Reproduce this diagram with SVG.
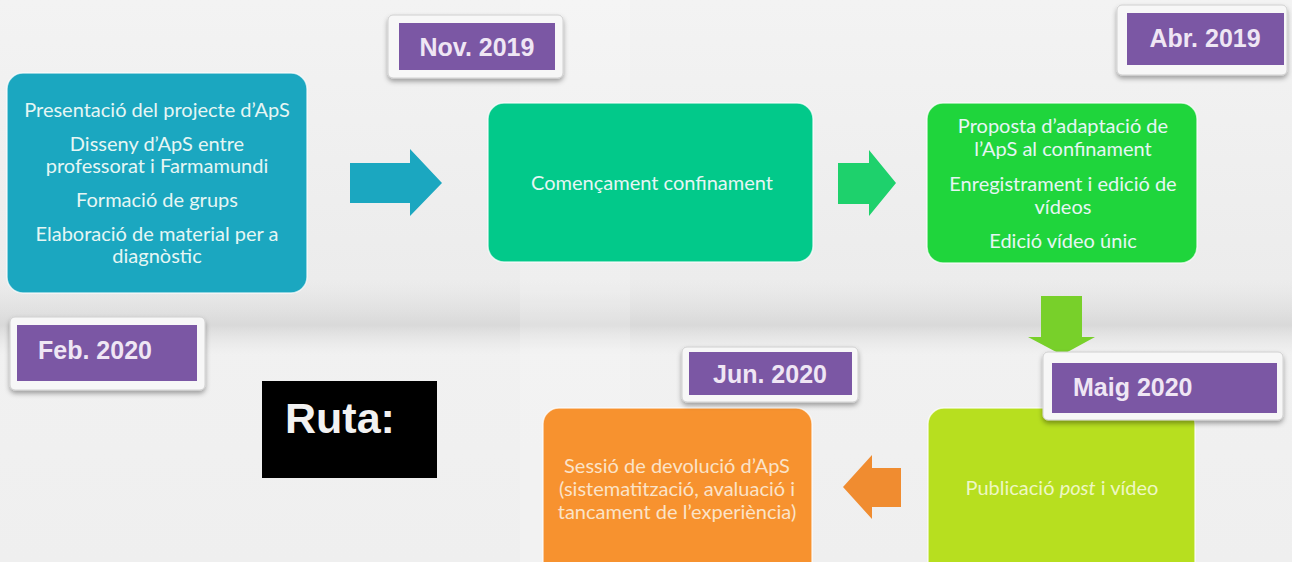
<svg xmlns="http://www.w3.org/2000/svg" width="1292" height="562" viewBox="0 0 1292 562">
<defs>
<linearGradient id="bg" x1="0" y1="0" x2="0" y2="1">
<stop offset="0" stop-color="#f3f3f3"/>
<stop offset="0.5" stop-color="#ececec"/>
<stop offset="0.6" stop-color="#f1f1f1"/>
<stop offset="1" stop-color="#efefef"/>
</linearGradient>
<linearGradient id="band" x1="0" y1="0" x2="0" y2="1">
<stop offset="0" stop-color="#d8d8d8" stop-opacity="0"/>
<stop offset="0.6" stop-color="#cfcfcf" stop-opacity="0.7"/>
<stop offset="1" stop-color="#e0e0e0" stop-opacity="0"/>
</linearGradient>
<filter id="sh" x="-10%" y="-20%" width="120%" height="150%">
<feDropShadow dx="0" dy="3" stdDeviation="2.5" flood-color="#000" flood-opacity="0.35"/>
</filter>
</defs>
<style>
.box{stroke:#ffffff;stroke-opacity:0.7;stroke-width:1.5}
.bt{font-family:Lato,"Open Sans",sans-serif;font-size:20px;fill:#e6f6f4;text-anchor:middle}
.frame{fill:#f7f7f7;stroke:#d0d0d0;stroke-width:1}
.tag{fill:#7b57a4}
.dt{font-family:"Liberation Sans",Arial,sans-serif;font-weight:bold;font-size:25px;fill:#efe6f4}
</style>
<rect width="1292" height="562" fill="url(#bg)"/>
<rect x="0" y="280" width="1292" height="75" fill="url(#band)"/>
<rect x="520" y="0" width="110" height="562" fill="#ffffff" opacity="0.18"/>

<g id="connectors">
<polygon points="350,163 410,163 410,149 442,183 410,216 410,203 350,203" fill="#1ba7c0"/>
<polygon points="838,163 869,163 869,150 896,183 869,216 869,204 838,204" fill="#1ed16c"/>
<polygon points="1041,296 1082,296 1082,337 1095,337 1062,355 1028,337 1041,337" fill="#78d02a"/>
<polygon points="901,468 872,468 872,455 843,487 872,519 872,507 901,507" fill="#f08c30"/>
</g>

<g id="n1">
<rect class="box" x="7" y="73" width="300" height="220" rx="16" fill="#1ba7c0"/>
<text class="bt" x="157" y="117">Presentació del projecte d’ApS</text>
<text class="bt" x="157" y="151">Disseny d’ApS entre</text>
<text class="bt" x="157" y="173">professorat i Farmamundi</text>
<text class="bt" x="157" y="207">Formació de grups</text>
<text class="bt" x="157" y="241">Elaboració de material per a</text>
<text class="bt" x="157" y="263">diagnòstic</text>
</g>

<g id="n2">
<rect class="box" x="488" y="103" width="325" height="159" rx="16" fill="#02c98a"/>
<text class="bt" x="652" y="190">Començament confinament</text>
</g>

<g id="n3">
<rect class="box" x="927" y="103" width="270" height="160" rx="16" fill="#1fd53c"/>
<text class="bt" x="1063" y="133">Proposta d’adaptació de</text>
<text class="bt" x="1063" y="156">l’ApS al confinament</text>
<text class="bt" x="1063" y="191">Enregistrament i edició de</text>
<text class="bt" x="1063" y="214">vídeos</text>
<text class="bt" x="1063" y="248">Edició vídeo únic</text>
</g>

<g id="n4">
<rect class="box" x="928" y="408" width="267" height="175" rx="16" fill="#b7df1f"/>
<text class="bt" x="1062" y="495" style="fill:#eef7c4">Publicació <tspan font-style="italic">post</tspan> i vídeo</text>
</g>

<g id="n5">
<rect class="box" x="543" y="408" width="269" height="175" rx="16" fill="#f7922f"/>
<text class="bt" x="677" y="473" style="fill:#fbe3c8">Sessió de devolució d’ApS</text>
<text class="bt" x="677" y="496" style="fill:#fbe3c8">(sistematització, avaluació i</text>
<text class="bt" x="677" y="519" style="fill:#fbe3c8">tancament de l’experiència)</text>
</g>

<g id="d-nov2019">
<rect class="frame" x="388" y="15" width="175" height="63" rx="5" filter="url(#sh)"/>
<rect class="tag" x="399" y="23" width="156" height="47"/>
<text class="dt" x="477" y="56" text-anchor="middle">Nov. 2019</text>
</g>

<g id="d-abr2019">
<rect class="frame" x="1117" y="5" width="170" height="70" rx="5" filter="url(#sh)"/>
<rect class="tag" x="1127" y="13" width="157" height="52"/>
<text class="dt" x="1205" y="47" text-anchor="middle">Abr. 2019</text>
</g>

<g id="d-feb2020">
<rect class="frame" x="10" y="317" width="195" height="73" rx="5" filter="url(#sh)"/>
<rect class="tag" x="17" y="325" width="180" height="56"/>
<text class="dt" x="38" y="359">Feb. 2020</text>
</g>

<g id="d-jun2020">
<rect class="frame" x="682" y="347" width="176" height="55" rx="5" filter="url(#sh)"/>
<rect class="tag" x="689" y="352" width="163" height="43"/>
<text class="dt" x="770" y="383" text-anchor="middle">Jun. 2020</text>
</g>

<g id="d-maig2020">
<rect class="frame" x="1043" y="352" width="240" height="68" rx="5" filter="url(#sh)"/>
<rect class="tag" x="1052" y="363" width="225" height="50"/>
<text class="dt" x="1073" y="396">Maig 2020</text>
</g>

<g id="ruta">
<rect x="262" y="381" width="175" height="97" fill="#000000"/>
<text x="285" y="433" font-family="'Liberation Sans',Arial,sans-serif" font-weight="bold" font-size="43" fill="#f2f2f2">Ruta:</text>
</g>
</svg>
